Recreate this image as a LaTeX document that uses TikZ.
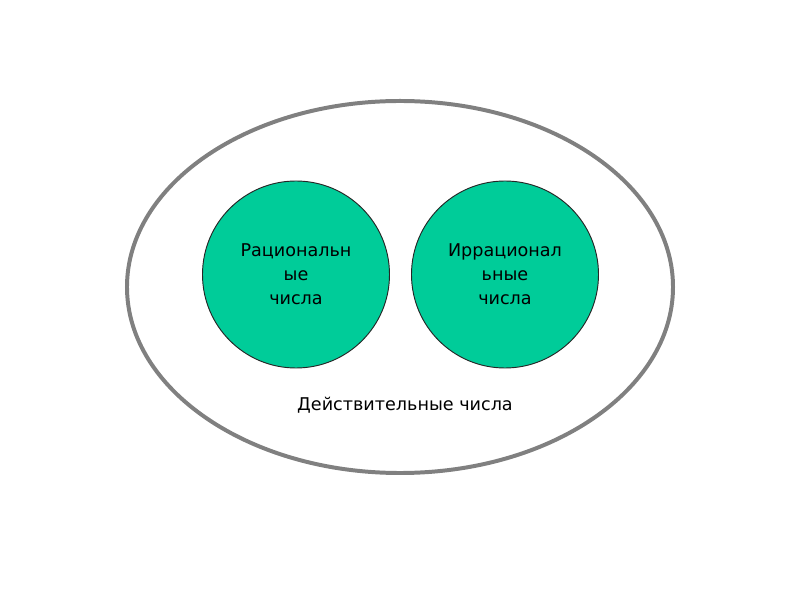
\documentclass[tikz,border=0pt]{standalone}
\usepackage{fontspec}
\setmainfont{DejaVu Sans}
\usetikzlibrary{shapes.geometric}
\definecolor{setgreen}{RGB}{0,204,153}
\definecolor{rimgray}{RGB}{128,128,128}
\begin{document}
\begin{tikzpicture}[x=0.03cm,y=-0.03cm,
  outerset/.style={ellipse,draw=rimgray,line width=3.4pt,minimum width=16.38cm,minimum height=11.16cm,inner sep=0pt},
  subset/.style={circle,draw=black!85,line width=0.8pt,fill=setgreen,minimum size=5.61cm,inner sep=0pt,align=center,font=\fontsize{15}{20.5}\selectfont},
  label/.style={font=\fontsize{15}{20.5}\selectfont}]
\useasboundingbox (0,0) rectangle (800,600);
\node[outerset] (real) at (400,287) {};
\node[subset] (rat) at (296,274.5) {Рациональн\\ые\\числа};
\node[subset] (irr) at (505,274.5) {Иррационал\\ьные\\числа};
\node[label] (reallabel) at (405,405) {Действительные числа};
\end{tikzpicture}
\end{document}
